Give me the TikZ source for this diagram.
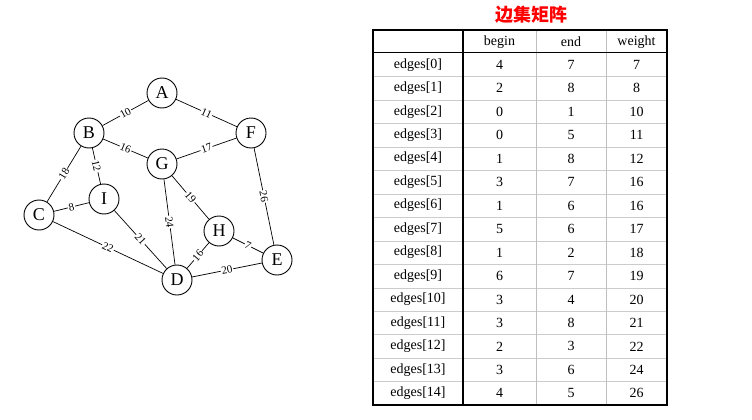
\documentclass[tikz,border=0pt]{standalone}
\usepackage{fontspec}
\setmainfont{Liberation Serif}
\newfontfamily\cjk{Noto Sans CJK SC}
\usetikzlibrary{positioning}

\begin{document}
\begin{tikzpicture}[x=1pt,y=-1pt,
    vertex/.style={draw,circle,line width=0.9pt,minimum size=30pt,inner sep=0pt,
        font=\fontsize{18}{18}\selectfont},
    edgelabel/.style={sloped,fill=white,inner sep=0.8pt,
        font=\fontsize{11}{11}\selectfont},
    cell/.style={inner sep=0pt,font=\fontsize{14}{14}\selectfont}]
\useasboundingbox (0,0) rectangle (752,420);
\def\Rowh{23.47}
    % the graph
    \foreach \n/\x/\y in {A/162/93, B/89/133, F/251/133, G/162/164, I/104/199,
            C/39/215, H/219/231, E/277/260, D/177/280} {
        \node[vertex] (\n) at (\x,\y) {\n};
    }
    \foreach \a/\b/\w in {A/B/10, A/F/11, B/G/16, G/F/17, B/C/18, B/I/12, C/I/8,
            C/D/22, I/D/21, G/D/24, G/H/19, H/D/16, H/E/7, D/E/20, F/E/26} {
        \draw[line width=0.7pt] (\a) -- node[edgelabel] (w\a\b) {\w} (\b);
    }
    % the edge array
    \node[text=red,font=\cjk\bfseries\fontsize{18}{18}\selectfont] (title) at (531,15) {边集矩阵};
    \foreach \k in {1,...,14} {
        \draw[gray!40] (373,{53+\Rowh*\k}) -- (667,{53+\Rowh*\k});
    }
    \draw[gray!50] (536,30) -- (536,405) (606,30) -- (606,405);
    \draw[line width=1pt] (373,53) -- (667,53);
    \draw[line width=1.2pt] (463,30) -- (463,405);
    \draw[line width=1.4pt] (373,30) rectangle (667,405);
    \node[cell] (hbegin) at (499.5,42) {begin};
    \node[cell] (hend) at (571,42) {end};
    \node[cell] (hweight) at (636.5,42) {weight};
    \foreach \b/\e/\w [count=\i from 0] in {4/7/7, 2/8/8, 0/1/10, 0/5/11, 1/8/12,
            3/7/16, 1/6/16, 5/6/17, 1/2/18, 6/7/19, 3/4/20, 3/8/21, 2/3/22,
            3/6/24, 4/5/26} {
        \pgfmathsetmacro\y{53+\Rowh*(\i+0.5)}
        \node[cell] (e\i) at (418,\y) {edges[\i]};
        \node[cell] (b\i) at (499.5,\y) {\b};
        \node[cell] (n\i) at (571,\y) {\e};
        \node[cell] (v\i) at (636.5,\y) {\w};
    }
\end{tikzpicture}
\end{document}
